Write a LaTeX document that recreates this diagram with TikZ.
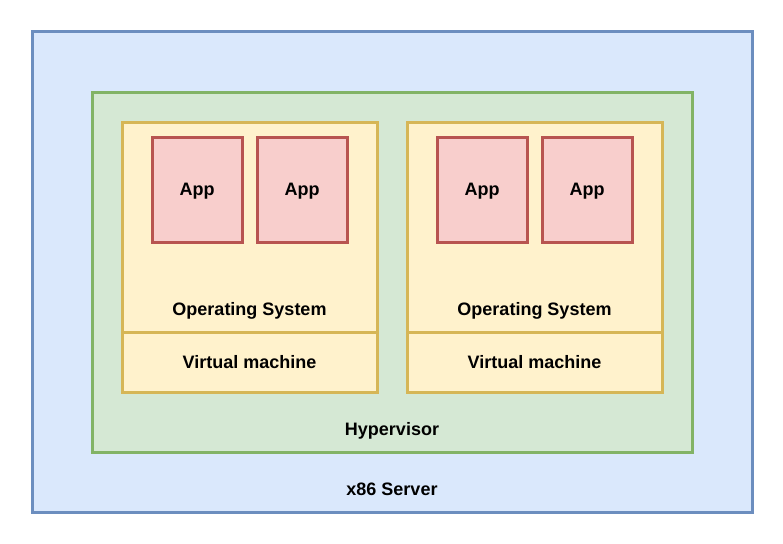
\documentclass[tikz,border=0pt]{standalone}
\usepackage{fontspec}
\setmainfont{Liberation Sans}
\definecolor{bluefill}{HTML}{DAE8FC}
\definecolor{bluestroke}{HTML}{6C8EBF}
\definecolor{greenfill}{HTML}{D5E8D4}
\definecolor{greenstroke}{HTML}{82B366}
\definecolor{yellowfill}{HTML}{FFF2CC}
\definecolor{yellowstroke}{HTML}{D6B656}
\definecolor{redfill}{HTML}{F8CECC}
\definecolor{redstroke}{HTML}{B85450}
\tikzset{
  box/.style={draw, line width=3pt, rectangle, inner sep=0pt, outer sep=0pt},
  server/.style={box, fill=bluefill, draw=bluestroke},
  hyper/.style={box, fill=greenfill, draw=greenstroke},
  vmbox/.style={box, fill=yellowfill, draw=yellowstroke},
  appbox/.style={box, fill=redfill, draw=redstroke},
  lbl/.style={inner sep=0pt, font=\bfseries\fontsize{18}{21}\selectfont}
}
\begin{document}
\begin{tikzpicture}[x=1pt,y=-1pt]
\useasboundingbox (0,0) rectangle (783,543);
\node[server, minimum width=720pt, minimum height=480pt] (srv) at (392,272) {};
\node[hyper, minimum width=600pt, minimum height=360pt] (hyp) at (392,272) {};
% VM 1
\node[vmbox, minimum width=255pt, minimum height=210pt] (os1) at (249.5,227) {};
\node[vmbox, minimum width=255pt, minimum height=60pt] (vm1) at (249.5,362) {};
\node[appbox, minimum width=90pt, minimum height=105pt] (a1) at (197,189.5) {};
\node[appbox, minimum width=90pt, minimum height=105pt] (a2) at (302,189.5) {};
\node[lbl] (a1l) at (197,191) {App};
\node[lbl] (a2l) at (302,191) {App};
\node[lbl] (os1l) at (249.5,311) {Operating System};
\node[lbl] (vm1l) at (249.5,362) {Virtual machine};
% VM 2
\node[vmbox, minimum width=255pt, minimum height=210pt] (os2) at (534.5,227) {};
\node[vmbox, minimum width=255pt, minimum height=60pt] (vm2) at (534.5,362) {};
\node[appbox, minimum width=90pt, minimum height=105pt] (a3) at (482,189.5) {};
\node[appbox, minimum width=90pt, minimum height=105pt] (a4) at (587,189.5) {};
\node[lbl] (a3l) at (482,191) {App};
\node[lbl] (a4l) at (587,191) {App};
\node[lbl] (os2l) at (534.5,311) {Operating System};
\node[lbl] (vm2l) at (534.5,362) {Virtual machine};
% labels
\node[lbl] (hypl) at (392,431) {Hypervisor};
\node[lbl] (srvl) at (392,489) {x86 Server};
\end{tikzpicture}
\end{document}
